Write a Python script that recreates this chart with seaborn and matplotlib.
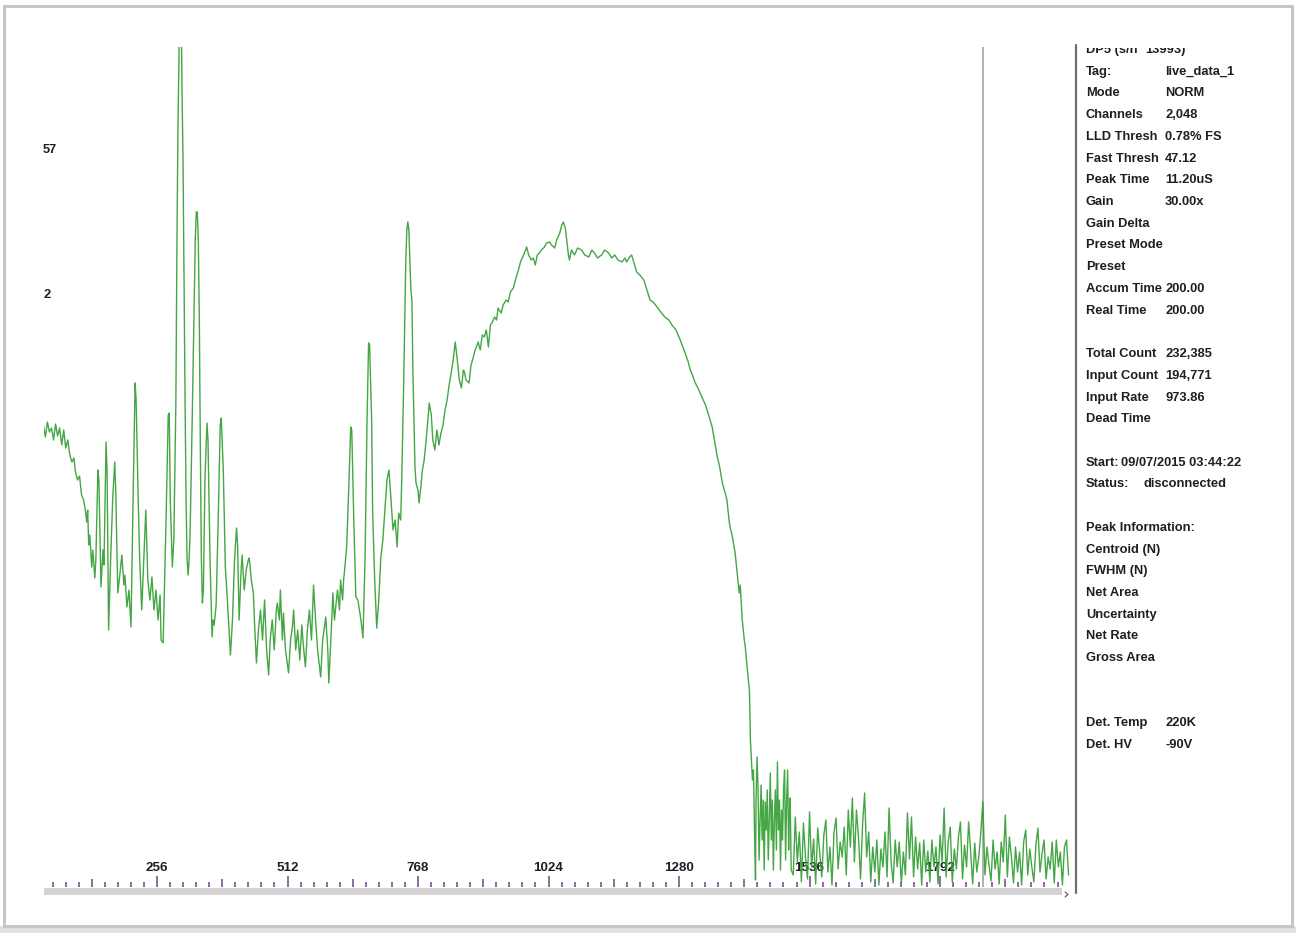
import numpy as np
import matplotlib
matplotlib.use("Agg")
import matplotlib.pyplot as plt
import seaborn as sns
from matplotlib.patches import Rectangle

# ---------------------------------------------------------------- data
# spectrum body: channel numbers and counts
body_channels = [
    33, 37, 41, 45, 49, 53, 57, 61, 65, 69, 73, 77, 81, 85, 89, 93, 96, 100, 104, 108,
    112, 116, 118, 120, 122, 124, 128, 130, 134, 136, 140, 142, 146, 150, 152, 156, 158, 161, 165, 169,
    173, 175, 179, 183, 187, 191, 193, 197, 201, 205, 209, 213, 215, 219, 222, 226, 230, 234, 238, 242,
    246, 250, 254, 258, 262, 264, 268, 270, 274, 278, 280, 282, 286, 289, 293, 295, 297, 299, 301, 303,
    305, 307, 309, 311, 313, 315, 317, 319, 321, 325, 329, 331, 333, 335, 337, 339, 341, 343, 345, 347,
    350, 354, 356, 360, 364, 366, 368, 372, 376, 380, 382, 386, 390, 394, 400, 404, 408, 412, 414, 417,
    421, 423, 427, 431, 435, 437, 441, 445, 447, 451, 455, 459, 463, 467, 471, 475, 478, 482, 486, 490,
    492, 496, 498, 502, 504, 508, 514, 518, 522, 524, 528, 532, 536, 540, 543, 547, 551, 555, 559, 563,
    567, 571, 577, 581, 587, 591, 593, 597, 601, 604, 608, 610, 614, 616, 620, 622, 624, 628, 632, 636,
    638, 642, 646, 650, 656, 660, 664, 668, 671, 673, 677, 679, 683, 687, 691, 695, 699, 703, 707, 711,
    715, 719, 723, 727, 730, 734, 736, 740, 744, 746, 748, 750, 754, 756, 758, 762, 764, 768, 770, 774,
    776, 780, 784, 790, 794, 797, 801, 805, 809, 813, 817, 821, 825, 829, 833, 837, 841, 845, 849, 853,
    857, 859, 862, 868, 872, 876, 880, 884, 886, 890, 894, 898, 902, 906, 910, 914, 918, 922, 925, 931,
    935, 941, 945, 949, 955, 959, 965, 969, 975, 979, 981, 985, 990, 994, 998, 1002, 1006, 1010, 1016, 1020,
    1026, 1030, 1036, 1040, 1046, 1050, 1053, 1057, 1059, 1063, 1065, 1069, 1075, 1081, 1089, 1095, 1103, 1109, 1114, 1120,
    1128, 1134, 1142, 1148, 1154, 1160, 1168, 1174, 1177, 1183, 1187, 1191, 1197, 1203, 1211, 1217, 1223, 1229, 1237, 1244,
    1252, 1260, 1266, 1274, 1280, 1286, 1292, 1298, 1302, 1307, 1311, 1317, 1325, 1331, 1335, 1341, 1345, 1351, 1355, 1359,
    1365, 1370, 1374, 1378, 1380, 1384, 1390, 1394, 1398, 1400, 1404, 1408, 1410, 1414, 1418, 1420, 1422, 1424, 1426, 1428,
    1430, 1431, 1433, 1435, 1437, 1439, 1441, 1443, 1445, 1447, 1449, 1451, 1453, 1455, 1457, 1459, 1461, 1463, 1465, 1467,
    1469, 1471, 1473, 1475, 1477, 1479, 1481, 1483, 1485, 1487, 1489, 1491, 1493, 1495, 1496, 1498, 1500,
]
body_counts = [
    462, 450, 465, 455, 459, 447, 463, 451, 459, 442, 457, 439, 447, 432, 425, 429, 415, 407, 411, 392,
    387, 375, 365, 377, 342, 352, 320, 337, 309, 327, 417, 407, 300, 337, 322, 445, 417, 257, 327, 387,
    425, 397, 294, 312, 332, 302, 312, 280, 297, 260, 387, 504, 487, 390, 327, 277, 327, 377, 307, 287,
    310, 277, 297, 267, 292, 247, 244, 287, 374, 472, 474, 387, 320, 347, 487, 637, 757, 827, 930, 900,
    797, 727, 607, 487, 387, 327, 312, 327, 357, 467, 587, 647, 675, 675, 647, 567, 437, 327, 284, 297,
    407, 464, 447, 327, 250, 267, 262, 282, 367, 462, 469, 417, 320, 287, 232, 267, 327, 359, 342, 267,
    317, 332, 297, 317, 327, 329, 307, 294, 267, 224, 257, 277, 247, 287, 237, 212, 247, 267, 237, 277,
    284, 267, 297, 247, 274, 237, 214, 247, 262, 277, 237, 257, 227, 262, 242, 220, 257, 277, 247, 302,
    267, 237, 210, 247, 270, 237, 204, 247, 294, 267, 287, 297, 277, 307, 287, 307, 317, 340, 397, 460,
    457, 367, 290, 287, 267, 249, 327, 467, 544, 542, 467, 374, 307, 259, 287, 330, 347, 377, 407, 417,
    387, 357, 367, 340, 374, 367, 407, 507, 627, 657, 665, 657, 597, 587, 514, 420, 404, 397, 384, 402,
    415, 427, 447, 484, 472, 447, 437, 457, 442, 454, 462, 477, 487, 502, 514, 527, 545, 527, 507, 499,
    517, 515, 507, 504, 522, 529, 537, 542, 545, 537, 552, 550, 557, 540, 562, 565, 570, 567, 579, 574,
    582, 587, 585, 595, 599, 607, 617, 625, 632, 637, 640, 632, 627, 629, 622, 632, 634, 637, 640, 644,
    645, 642, 639, 647, 654, 662, 665, 659, 650, 632, 627, 637, 632, 639, 637, 632, 630, 637, 634, 629,
    632, 637, 634, 629, 632, 627, 625, 629, 625, 630, 632, 625, 615, 612, 607, 597, 587, 585, 580, 575,
    570, 567, 562, 557, 550, 542, 534, 525, 517, 511, 505, 499, 490, 483, 477, 467, 460, 442, 430, 422,
    404, 395, 387, 367, 360, 352, 334, 314, 294, 302, 267, 247, 240, 217, 197, 147, 127, 107, 117, 57,
    7, 87, 130, 97, 27, 67, 102, 47, 87, 17, 85, 57, 97, 27, 67, 114, 47, 87, 17, 67,
    97, 37, 125, 57, 87, 17, 77, 47, 97, 117, 27, 87, 117, 37, 67, 89, 17,
]

# spectrum tail: every 4th channel from 1504 to 2044
tail_channels = list(range(1504, 2048, 4))
tail_counts = [
    12, 70, 25, 55, 5, 64, 30, 8, 75, 20, 48, 3, 59, 35, 10, 52, 67, 15, 40, 2,
    55, 69, 18, 45, 30, 60, 12, 77, 40, 89, 25, 77, 50, 8, 62, 94, 30, 55, 5, 40,
    15, 47, 2, 38, 20, 55, 10, 79, 25, 4, 47, 20, 45, 3, 35, 12, 74, 28, 70, 10,
    50, 18, 44, 2, 47, 15, 36, 5, 47, 20, 40, 3, 52, 25, 79, 10, 45, 60, 5, 38,
    18, 50, 65, 8, 42, 20, 65, 35, 3, 44, 15, 30, 55, 85, 12, 40, 22, 6, 47, 18,
    35, 3, 45, 25, 72, 10, 50, 30, 4, 40, 15, 35, 2, 45, 57, 12, 38, 20, 5, 42,
    59, 15, 33, 47, 8, 30, 18, 45, 4, 47, 20, 35, 2, 40, 47, 12,
]

channel_tick_labels = ["256", "512", "768", "1024", "1280", "1536", "1792"]
count_labels = ["57", "2"]
cursor_channel = 1877

panel_rows = [
    ("DP5 (s/n", "13993)"),
    ("Tag:", "live_data_1"),
    ("Mode", "NORM"),
    ("Channels", "2,048"),
    ("LLD Thresh", "0.78% FS"),
    ("Fast Thresh", "47.12"),
    ("Peak Time", "11.20uS"),
    ("Gain", "30.00x"),
    ("Gain Delta", ""),
    ("Preset Mode", ""),
    ("Preset", ""),
    ("Accum Time", "200.00"),
    ("Real Time", "200.00"),
    None,
    ("Total Count", "232,385"),
    ("Input Count", "194,771"),
    ("Input Rate", "973.86"),
    ("Dead Time", ""),
    None,
    ("Start:", "09/07/2015 03:44:22"),
    ("Status:", "disconnected"),
    None,
    ("Peak Information:", ""),
    ("Centroid (N)", ""),
    ("FWHM (N)", ""),
    ("Net Area", ""),
    ("Uncertainty", ""),
    ("Net Rate", ""),
    ("Gross Area", ""),
    None,
    None,
    ("Det. Temp", "220K"),
    ("Det. HV", "-90V"),
]

# ---------------------------------------------------------------- style
sns.set_style("white")
plt.rcParams["font.family"] = ["Liberation Sans", "DejaVu Sans"]

W, H = 1296, 933
fig = plt.figure(figsize=(W / 100, H / 100), dpi=100)
fig.patch.set_facecolor("white")


def px_axes(left, top, right, bottom):
    return fig.add_axes([left / W, 1 - bottom / H, (right - left) / W, (bottom - top) / H])


TEXT = "#1e1e24"
FONT_KW = dict(fontsize=9.3, fontweight="bold", color=TEXT)

# ---------------------------------------------------------------- spectrum
ax = px_axes(44, 47, 1075, 887)
ax.set_facecolor("none")
ax.axvline(cursor_channel, color="#ababab", lw=1.3, zorder=1)

channels = np.array(body_channels + tail_channels)
counts = np.array(body_counts + tail_counts)
sns.lineplot(x=channels, y=counts, ax=ax, color="#2f9d2f", lw=1.0, alpha=0.9,
             estimator=None, sort=False, zorder=3)

ax.set_xlim(34.3, 2056.7)
ax.set_ylim(0, 840)
for s in ax.spines.values():
    s.set_visible(False)
ax.set_yticks([])
ax.set_xlabel("")
ax.set_ylabel("")

major = [128 * k for k in range(1, 16)]
minor = [k * 25.6 for k in range(2, 80) if k % 5]
ax.set_xticks(major)
ax.set_xticklabels([channel_tick_labels[k // 2 - 1] if k % 2 == 0 else ""
                    for k in range(1, 16)])
ax.set_xticks(minor, minor=True)
ax.tick_params(axis="x", which="both", direction="in", bottom=True, top=False,
               color="#8d6d9d", width=1.4, pad=-18.3, labelsize=9.6, labelcolor=TEXT)
ax.tick_params(axis="x", which="major", length=8)
ax.tick_params(axis="x", which="minor", length=3.4)
for k, t in enumerate(ax.xaxis.get_major_ticks(), start=1):
    if k % 2:
        t.tick1line.set_markersize(5.6)
for lab in ax.get_xticklabels():
    lab.set_fontweight("bold")

# ---------------------------------------------------------------- overlay (frame, bars, labels)
ov = fig.add_axes([0, 0, 1, 1])
ov.set_xlim(0, W)
ov.set_ylim(H, 0)
ov.axis("off")
ov.set_zorder(5)
ov.patch.set_visible(False)

ov.add_patch(Rectangle((0, 926), W, 7, color="#e2e2e2", lw=0))
ov.add_patch(Rectangle((4, 6), 1288, 920, fill=False, ec="#c6c6c6", lw=2.2))
ov.add_patch(Rectangle((44, 888), 1018, 7, color="#d3d3d3", lw=0))
ov.plot([1065, 1068, 1065], [892, 894.5, 897], color="#555555", lw=0.8)
ov.plot([1075.5, 1075.5], [45, 893], color="#6e6e6e", lw=1.6)

ov.text(43, 150, count_labels[0], ha="left", va="center", **FONT_KW)
ov.text(43, 295, count_labels[1], ha="left", va="center", **FONT_KW)

# ---------------------------------------------------------------- info panel
panel = px_axes(1077, 47.5, 1290, 900)
panel.set_xlim(1077, 1290)
panel.set_ylim(900, 47.5)
panel.axis("off")
panel.patch.set_visible(False)

value_x = {"DP5 (s/n": 1145, "Start:": 1121, "Status:": 1143}
for i, row in enumerate(panel_rows):
    if row is None:
        continue
    label, value = row
    y = 53.0 + 21.72 * i
    panel.text(1086, y, label, ha="left", va="baseline", clip_on=True, **FONT_KW)
    if value:
        panel.text(value_x.get(label, 1165), y, value, ha="left", va="baseline",
                   clip_on=True, **FONT_KW)

fig.savefig("out.png", dpi=100, facecolor="white")
